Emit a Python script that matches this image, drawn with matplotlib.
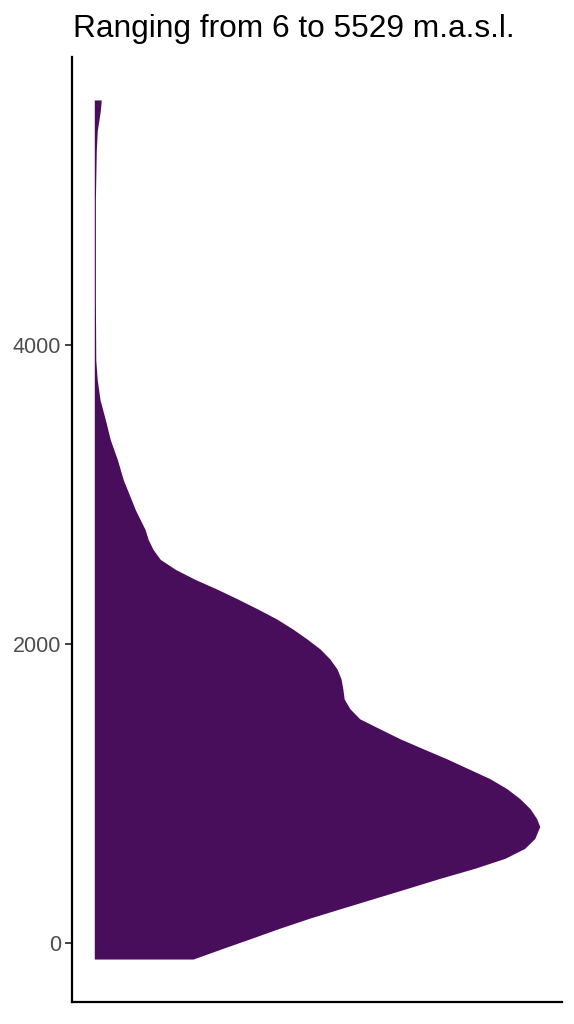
import numpy as np
import matplotlib
matplotlib.use('Agg')
import matplotlib.pyplot as plt

plt.rcParams['font.family'] = ['Liberation Sans', 'DejaVu Sans']

# elevation (m.a.s.l.) and relative density width (max = 1)
elevation = [-107, -33, 33, 100, 167, 233, 300, 367, 433, 500, 567, 633, 700, 780,
             833, 900, 967, 1033, 1100, 1167, 1233, 1300, 1367, 1433, 1500, 1567,
             1633, 1700, 1767, 1833, 1900, 1967, 2033, 2100, 2167, 2233, 2300, 2367,
             2433, 2500, 2567, 2633, 2700, 2767, 2833, 2900, 2967, 3100, 3233, 3367,
             3500, 3633, 3767, 3900, 4300, 4967, 5300, 5433, 5567, 5640]
density = [0.222, 0.291, 0.354, 0.417, 0.484, 0.556, 0.630, 0.704, 0.776, 0.854,
           0.922, 0.966, 0.989, 1.000, 0.993, 0.978, 0.955, 0.926, 0.888, 0.839,
           0.791, 0.738, 0.686, 0.641, 0.596, 0.574, 0.561, 0.558, 0.554, 0.545,
           0.529, 0.507, 0.478, 0.446, 0.410, 0.368, 0.323, 0.276, 0.226, 0.182,
           0.148, 0.132, 0.121, 0.114, 0.103, 0.092, 0.083, 0.065, 0.052, 0.036,
           0.025, 0.013, 0.0067, 0.0034, 0.0025, 0.0025, 0.0045, 0.0067, 0.0135,
           0.0157]
yticks = [0, 2000, 4000]
title = 'Ranging from 6 to 5529 m.a.s.l.'

fill_col = '#480E5C'

fig = plt.figure(figsize=(5.74, 10.24), dpi=100)
ax = fig.add_axes([72/574, 22/1024, 490/574, 945/1024])

ax.fill_betweenx(elevation, 0, density, color=fill_col, linewidth=0)

ax.margins(x=0.05, y=0.05)
ax.set_yticks(yticks)
ax.set_xticks([])
ax.tick_params(axis='y', length=5, width=1.3, color='#333333',
               labelsize=15.5, labelcolor='#4D4D4D', pad=3)
for s in ['top', 'right']:
    ax.spines[s].set_visible(False)
for s in ['left', 'bottom']:
    ax.spines[s].set_linewidth(1.6)
    ax.spines[s].set_color('black')

fig.text(73/574, 1 - 29/1024, title, fontsize=22.8, ha='left', va='center', color='black')

fig.savefig('out.png', dpi=100, facecolor='white')
